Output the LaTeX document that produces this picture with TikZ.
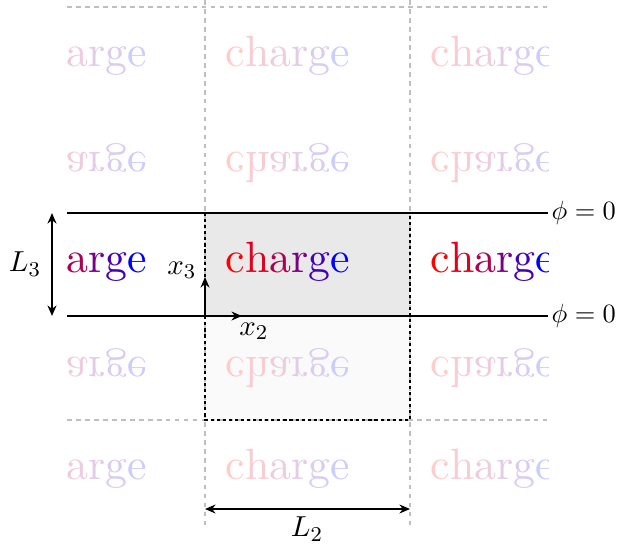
\documentclass[tikz,border=0pt]{standalone}
\usetikzlibrary{arrows.meta}
\newcommand{\argeword}[1]{\textcolor{red!68!blue!#1}{a}\textcolor{red!48!blue!#1}{r}\textcolor{red!28!blue!#1}{g}\textcolor{blue!#1}{e}}
\newcommand{\chgword}[1]{\textcolor{red!#1}{c}\textcolor{red!88!blue!#1}{h}\argeword{#1}}
\newcommand{\upword}[1]{\scalebox{1.66}{#1}}
\newcommand{\dnword}[1]{\scalebox{1.66}[-1.66]{#1}}
\tikzset{
  chg/.style={inner sep=0pt},
  wall/.style={line width=0.8pt, black},
  griddash/.style={gray!50, line width=0.6pt, dash pattern=on 1.8pt off 1.6pt},
  celldash/.style={black, line width=0.8pt, dash pattern=on 1.2pt off 1.1pt},
  dimarrow/.style={line width=0.8pt, {Stealth[length=4pt,width=3.4pt]}-{Stealth[length=4pt,width=3.4pt]}},
  axarrow/.style={line width=0.8pt, -{Stealth[length=4pt,width=3.4pt]}},
  lbl/.style={inner sep=1pt, font=\fontsize{11}{13}\selectfont},
  philbl/.style={inner sep=1pt}
}
\begin{document}
\begin{tikzpicture}[x=0.3788pt,y=-0.3788pt]
\useasboundingbox (0,0) rectangle (619,548);
\fill[gray!17] (205,213) rectangle (410,316);
\fill[gray!4] (205,316) rectangle (410,420);
% left column (cut to "arge")
\node[chg, anchor=west] (t1a) at (66,56) {\upword{\vphantom{h}\argeword{20}}};
\node[chg, anchor=west] (t2a) at (66,163) {\dnword{\vphantom{h}\argeword{20}}};
\node[chg, anchor=west] (t3a) at (66,262) {\upword{\vphantom{h}\argeword{100}}};
\node[chg, anchor=west] (t4a) at (66,368) {\dnword{\vphantom{h}\argeword{20}}};
\node[chg, anchor=west] (t5a) at (66,469) {\upword{\vphantom{h}\argeword{20}}};
\begin{scope}
\clip (67,0) rectangle (548,548);
\foreach \x/\n in {288/b,493/c} {
  \node[chg] (t1\n) at (\x,56) {\upword{\chgword{20}}};
  \node[chg] (t2\n) at (\x,163) {\dnword{\chgword{20}}};
  \node[chg] (t3\n) at (\x,262) {\upword{\chgword{100}}};
  \node[chg] (t4\n) at (\x,368) {\dnword{\chgword{20}}};
  \node[chg] (t5\n) at (\x,469) {\upword{\chgword{20}}};
}
\end{scope}
% grid lines
\coordinate (gl1) at (67,7);   \coordinate (gr1) at (548,7);
\coordinate (gl2) at (67,420); \coordinate (gr2) at (548,420);
\coordinate (gt1) at (205,0);  \coordinate (gb1) at (205,527);
\coordinate (gt2) at (410,0);  \coordinate (gb2) at (410,527);
\draw[griddash] (gl1) -- (gr1);
\draw[griddash] (gl2) -- (gr2);
\draw[griddash] (gt1) -- (gb1);
\draw[griddash] (gt2) -- (gb2);
% unit cell
\draw[celldash] (205,213) rectangle (410,420);
% walls
\coordinate (w1l) at (67,213); \coordinate (w1r) at (548,213);
\coordinate (w2l) at (67,316); \coordinate (w2r) at (548,316);
\draw[wall] (w1l) -- (w1r) node[anchor=west, philbl] (phi1) {$\phi=0$};
\draw[wall] (w2l) -- (w2r) node[anchor=west, philbl] (phi2) {$\phi=0$};
% axes
\coordinate (o) at (205,316);
\coordinate (x3e) at (205,277);
\coordinate (x2e) at (242,316);
\draw[axarrow] (o) -- (x3e);
\draw[axarrow] (o) -- (x2e);
\node[lbl] (lx3) at (182,270) {$x_3$};
\node[lbl] (lx2) at (254,331) {$x_2$};
% dimensions
\coordinate (l3a) at (52,213); \coordinate (l3b) at (52,316);
\draw[dimarrow] (l3a) -- (l3b);
\node[lbl] (lL3) at (25,264) {$L_3$};
\coordinate (l2a) at (205,509); \coordinate (l2b) at (410,509);
\draw[dimarrow] (l2a) -- (l2b);
\node[lbl] (lL2) at (307,529) {$L_2$};
\end{tikzpicture}
\end{document}
